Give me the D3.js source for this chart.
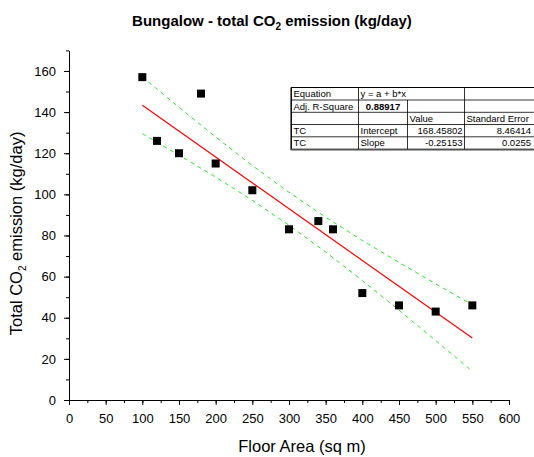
<!DOCTYPE html>
<html>
<head>
<meta charset="utf-8"/>
<style>
    body { margin: 0; background: #fff; font-family: 'Liberation Sans', Arial, sans-serif; }
    svg { display: block; }
    .axis path, .axis line { stroke: #000; }
    .axis text { font-size: 13px; fill: #000; font-family: 'Liberation Sans', Arial, sans-serif; }
    .tbl text { font-size: 9.5px; font-family: 'Liberation Sans', Arial, sans-serif; fill: #000; }
</style>
<script src="https://cdnjs.cloudflare.com/ajax/libs/d3/7.8.5/d3.min.js"></script>
</head>
<body>
<svg id="chart" width="534" height="457"></svg>
<script>
const floorArea = [100, 120, 150, 180, 200, 250, 300, 340, 360, 400, 450, 500, 550];
const totalCO2  = [157, 126, 120, 149, 115, 102, 83, 87, 83, 52, 46, 43, 46];

// linear fit line end points
const fitX = [100, 550];
const fitY = [143.3, 30.1];

// 95% confidence bands
const bandX     = [100, 150, 200, 250, 300, 350, 400, 450, 500, 550];
const bandUpper = [157.1, 142.3, 127.9, 114.0, 101.0, 88.9, 77.6, 66.9, 56.5, 46.3];
const bandLower = [129.5, 119.1, 108.4, 97.1, 85.0, 72.0, 58.1, 43.7, 28.9, 14.0];

const xTicks = d3.range(0, 601, 50);
const yTicks = d3.range(0, 161, 20);

// fit results table
const tableRows = [
    ['Equation', 'y = a + b*x', '', ''],
    ['Adj. R-Square', '0.88917', '', ''],
    ['', '', 'Value', 'Standard Error'],
    ['TC', 'Intercept', '168.45802', '8.46414'],
    ['TC', 'Slope', '-0.25153', '0.0255']
];

const svg = d3.select('#chart');

const x = d3.scaleLinear().domain([0, 600]).range([69, 509]);
const y = d3.scaleLinear().domain([0, 170]).range([400, 50.4]);

// axes
svg.append('g')
    .attr('class', 'axis')
    .attr('transform', `translate(0,${y(0)})`)
    .call(d3.axisBottom(x).tickValues(d3.range(0, 601, 25)).tickSize(3).tickFormat(''))
    .call(g => g.select('.domain').remove());

svg.append('g')
    .attr('class', 'axis')
    .attr('transform', `translate(0,${y(0)})`)
    .call(d3.axisBottom(x).tickValues(xTicks).tickSize(5).tickSizeOuter(0).tickPadding(9));

svg.append('g')
    .attr('class', 'axis')
    .attr('transform', `translate(${x(0)},0)`)
    .call(d3.axisLeft(y).tickValues(d3.range(0, 171, 10)).tickSize(3).tickFormat(''))
    .call(g => g.select('.domain').remove());

svg.append('g')
    .attr('class', 'axis')
    .attr('transform', `translate(${x(0)},0)`)
    .call(d3.axisLeft(y).tickValues(yTicks).tickSize(5).tickSizeOuter(0).tickPadding(8));

// confidence bands
const line = d3.line().x(d => x(d[0])).y(d => y(d[1]));
[bandUpper, bandLower].forEach(b => {
    svg.append('path')
        .datum(bandX.map((v, i) => [v, b[i]]))
        .attr('d', line)
        .attr('fill', 'none')
        .attr('stroke', '#22ee22')
        .attr('stroke-width', 1)
        .attr('stroke-dasharray', '4,4');
});

// fit line
svg.append('path')
    .datum(fitX.map((v, i) => [v, fitY[i]]))
    .attr('d', line)
    .attr('fill', 'none')
    .attr('stroke', '#ff0000')
    .attr('stroke-width', 1.2);

// points
const S = 8;
svg.append('g').selectAll('rect')
    .data(floorArea.map((v, i) => [v, totalCO2[i]]))
    .enter().append('rect')
    .attr('x', d => x(d[0]) - S / 2)
    .attr('y', d => y(d[1]) - S / 2)
    .attr('width', S)
    .attr('height', S)
    .attr('fill', '#000');

// title
const title = svg.append('text')
    .attr('x', 272).attr('y', 26)
    .attr('text-anchor', 'middle')
    .attr('font-size', 15).attr('font-weight', 'bold');
title.append('tspan').text('Bungalow - total CO');
title.append('tspan').text('2').attr('font-size', 10).attr('dy', 4);
title.append('tspan').text(' emission (kg/day)').attr('dy', -4);

// axis titles
svg.append('text')
    .attr('x', 302).attr('y', 452)
    .attr('text-anchor', 'middle')
    .attr('font-size', 16.5)
    .text('Floor Area (sq m)');

const yt = svg.append('text')
    .attr('transform', `translate(22,${y(81)}) rotate(-90)`)
    .attr('text-anchor', 'middle')
    .attr('font-size', 16.5);
yt.append('tspan').text('Total CO');
yt.append('tspan').text('2').attr('font-size', 10).attr('dy', 4);
yt.append('tspan').text(' emission (kg/day)').attr('dy', -4);

// table
const colX = [291.5, 358.5, 407.5, 464.5, 540];
const rowY = [87.5, 100, 112.3, 124.5, 136.8, 149.2];
const tbl = svg.append('g').attr('class', 'tbl');

tbl.append('rect')
    .attr('x', colX[0]).attr('y', rowY[0])
    .attr('width', colX[4] - colX[0]).attr('height', rowY[5] - rowY[0])
    .attr('fill', '#fff').attr('stroke', '#000').attr('stroke-width', 1);

tbl.append('line')
    .attr('x1', colX[0] - 0.8).attr('x2', colX[0] - 0.8)
    .attr('y1', rowY[0]).attr('y2', rowY[5] + 0.8)
    .attr('stroke', '#555');
tbl.append('line')
    .attr('x1', colX[0] - 0.8).attr('x2', colX[4])
    .attr('y1', rowY[5] + 0.8).attr('y2', rowY[5] + 0.8)
    .attr('stroke', '#555');

rowY.slice(1, 5).forEach(ry => {
    tbl.append('line').attr('x1', colX[0]).attr('x2', colX[4])
        .attr('y1', ry).attr('y2', ry).attr('stroke', '#000').attr('stroke-width', 0.8);
});
// column separators (col 2/3 line starts at row 2)
[[1, 0], [2, 1], [3, 0]].forEach(([c, r0]) => {
    tbl.append('line').attr('x1', colX[c]).attr('x2', colX[c])
        .attr('y1', rowY[r0]).attr('y2', rowY[5]).attr('stroke', '#000').attr('stroke-width', 0.8);
});

tableRows.forEach((row, r) => {
    row.forEach((cell, c) => {
        if (!cell) return;
        const numeric = r >= 3 && c >= 2;
        const bold = r === 1 && c === 1;
        const t = tbl.append('text')
            .attr('y', rowY[r] + 9.5)
            .text(cell);
        if (numeric) {
            t.attr('x', colX[c + 1] - 2).attr('text-anchor', 'end');
            if (c === 3) t.attr('x', 531);
        } else if (bold) {
            t.attr('x', (colX[1] + colX[2]) / 2).attr('text-anchor', 'middle').attr('font-weight', 'bold');
        } else {
            t.attr('x', colX[c] + 2);
        }
    });
});
</script>
</body>
</html>
